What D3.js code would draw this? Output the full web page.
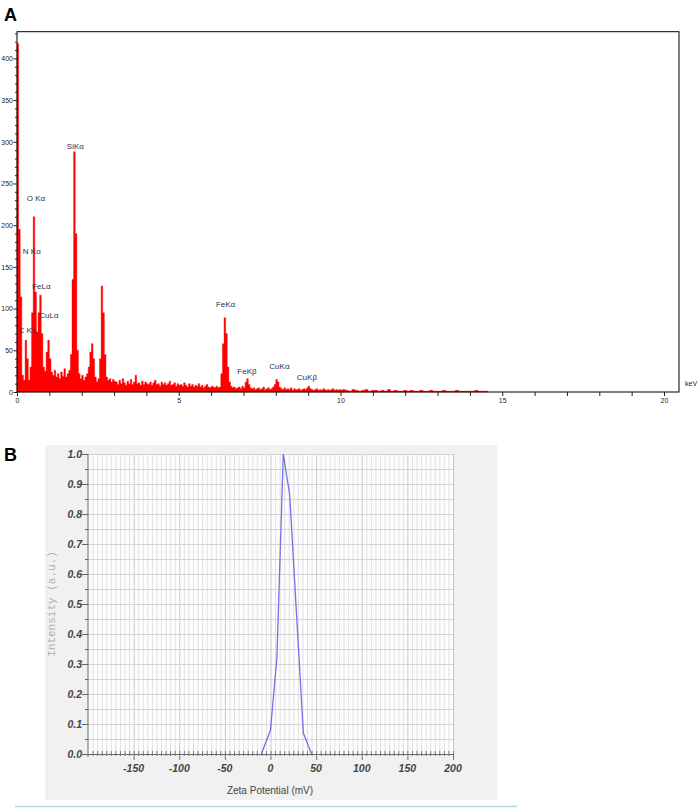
<!DOCTYPE html>
<html><head><meta charset="utf-8">
<script src="https://cdn.jsdelivr.net/npm/d3@7"></script>
<style>body{margin:0;background:#fff}svg{display:block}</style>
</head><body>
<svg id="c" width="699" height="809"></svg>
<script>
// ---------- Panel A: EDS spectrum (counts per channel) ----------
const edsStep = 0.05;           // keV per channel, 0.00 .. 10.00
const edsLow = [ // 0.00 .. 3.00 keV
  418,195,114,20,14,62,40,14,30,95,210,120,72,95,116,70,30,25,48,62,
  40,24,20,26,18,22,16,24,19,28,18,22,26,45,135,288,190,50,22,16,
  20,14,18,22,30,48,58,40,18,12,16,40,127,95,45,18,14,16,12,15,13];
const edsMid = [ // 3.05 .. 10.00 keV
  12,9,14,10,16,11,8,13,10,15,9,12,20,10,11,8,13,9,12,10,
  9,12,8,11,14,9,10,7,12,9,11,8,10,13,8,9,11,7,10,8,
  9,7,11,8,6,10,7,9,6,8,7,10,6,8,5,7,9,6,5,7,
  6,5,7,5,6,22,58,89,70,30,12,7,5,6,4,5,6,4,7,5,
  12,16,9,5,4,5,3,4,5,3,4,6,3,4,5,3,4,6,9,15,
  12,6,4,3,5,3,4,3,5,2,4,3,3,4,2,3,4,3,5,7,
  4,3,2,3,4,2,3,2,4,3,2,3,2,3,4,2,3,2,3,2];
const edsTailStart = 10.05, edsTailStep = 0.1;
const edsTail = [ // 10.05 .. 14.45 keV
  3,2,1,3,2,1,2,3,1,2, 2,1,2,1,3,1,2,1,1,2,
  1,2,1,1,2,1,1,2,1,1, 1,2,1,1,1,2,1,1,1,1, 1,2,1,1,1];
const edsLabels   = ["SiKα","O Kα","N Kα","FeLα","CuLα","C Kα","FeKα","FeKβ","CuKα","CuKβ"];
const edsLabelKeV = [1.54, 0.30, 0.18, 0.47, 0.69, 0.05, 6.15, 6.81, 7.80, 8.65];
const edsLabelCnt = [291, 229, 165, 123, 89, 71, 102, 22, 28, 14];
const edsXTicks = [0,5,10,15,20];

// ---------- Panel B: Zeta potential distribution ----------
const zetaMv  = [-10, 0, 7, 14, 21, 36, 45];
const zetaInt = [0, 0.08, 0.32, 1.0, 0.865, 0.07, 0];
const zetaXTicks = [-150,-100,-50,0,50,100,150,200];
const zetaYTicks = [0,0.1,0.2,0.3,0.4,0.5,0.6,0.7,0.8,0.9,1.0];

const svg = d3.select("#c");
const FONT = "Liberation Sans, Arial, sans-serif";

// ===== Panel A =====
const pts = [];
edsLow.forEach((c,i)=>pts.push({e:i*edsStep, c}));
edsMid.forEach((c,i)=>pts.push({e:3+(i+1)*edsStep, c}));
edsTail.forEach((c,i)=>pts.push({e:edsTailStart + i*edsTailStep, c}));
pts.push({e:edsTailStart + edsTail.length*edsTailStep, c:0});

const xA = d3.scaleLinear().domain([0,20]).range([17,664]);
const yA = d3.scaleLinear().domain([0,432]).range([392,31.7]);
const gA = svg.append("g");

gA.append("text").attr("x",4).attr("y",21).text("A")
  .attr("font-family",FONT).attr("font-weight","bold").attr("font-size",18);

// spectrum as filled step area
const area = d3.area().curve(d3.curveStepAfter)
  .x(d=>xA(d.e)).y0(yA(0)).y1(d=>yA(d.c));
gA.append("path").datum(pts).attr("d",area).attr("fill","#ff0000")
  .attr("stroke","#ff0000").attr("stroke-width",0.4);

// frame
gA.append("rect").attr("x",17).attr("y",31.7).attr("width",679-17).attr("height",392-31.7)
  .attr("fill","none").attr("stroke","#000").attr("stroke-width",1);

// y axis
const yAxA = d3.axisLeft(yA).tickValues(d3.range(0,431,10))
  .tickFormat(d=> d%50===0 ? d : "").tickSizeOuter(0);
const gy = gA.append("g").attr("transform","translate(17,0)").call(yAxA);
gy.select(".domain").remove();
gy.selectAll(".tick line").attr("x2",d=>d%50===0?-3.5:-2).attr("stroke","#222");
gy.selectAll(".tick text").attr("x",-4).attr("font-size",7).attr("fill","#222")
  .attr("font-family",FONT);

// x axis
const xAxA = d3.axisBottom(xA).tickValues(d3.range(0,21,1))
  .tickFormat(d=> edsXTicks.includes(d) ? d : "").tickSizeOuter(0);
const gx = gA.append("g").attr("transform","translate(0,392)").call(xAxA);
gx.select(".domain").remove();
gx.selectAll(".tick line").attr("y2",4).attr("stroke","#222");
gx.selectAll(".tick text").attr("y",6).attr("font-size",7).attr("fill","#222")
  .attr("font-family",FONT);
gA.append("text").attr("x",685).attr("y",386).text("keV")
  .attr("font-size",7).attr("fill","#222").attr("font-family",FONT);

// peak labels
gA.append("g").selectAll("text").data(edsLabels).join("text")
  .attr("x",(d,i)=>xA(edsLabelKeV[i])).attr("y",(d,i)=>yA(edsLabelCnt[i]))
  .text(d=>d).attr("font-size",8).attr("fill","#30304a")
  .attr("font-family",FONT);

// ===== Panel B =====
const gB = svg.append("g");
gB.append("text").attr("x",4).attr("y",461).text("B")
  .attr("font-family",FONT).attr("font-weight","bold").attr("font-size",18);
gB.append("rect").attr("x",45).attr("y",445).attr("width",452).attr("height",355).attr("fill","#f1f1f1");

const xB = d3.scaleLinear().domain([-200,200]).range([88,453]);
const yB = d3.scaleLinear().domain([0,1]).range([754,454]);
gB.append("rect").attr("x",88).attr("y",454).attr("width",365).attr("height",300).attr("fill","#fdfdfd");

// grid
gB.append("g").selectAll("line").data(d3.range(-195,201,5)).join("line")
  .attr("x1",d=>xB(d)+0.5).attr("x2",d=>xB(d)+0.5).attr("y1",454).attr("y2",754)
  .attr("stroke",d=>d%50===0?"#c9c9c9":"#e0e0e0").attr("stroke-width",1);
gB.append("g").selectAll("line").data(d3.range(1,21,1)).join("line")
  .attr("x1",88).attr("x2",453).attr("y1",d=>Math.round(yB(d*0.05))+0.5).attr("y2",d=>Math.round(yB(d*0.05))+0.5)
  .attr("stroke","#d4d4d4").attr("stroke-width",1);

// axes
gB.append("line").attr("x1",88).attr("x2",88).attr("y1",454).attr("y2",757).attr("stroke","#666");
gB.append("line").attr("x1",88).attr("x2",453).attr("y1",754.5).attr("y2",754.5).attr("stroke","#666");
gB.append("g").selectAll("line").data(d3.range(0,21,1)).join("line")
  .attr("x1",d=>d%2===0?82:85).attr("x2",88)
  .attr("y1",d=>Math.round(yB(d*0.05))+0.5).attr("y2",d=>Math.round(yB(d*0.05))+0.5)
  .attr("stroke","#666");
gB.append("g").selectAll("text").data(zetaYTicks).join("text")
  .attr("x",82).attr("y",d=>yB(d)+3.8).attr("text-anchor","end").text(d=>d.toFixed(1))
  .attr("font-family",FONT).attr("font-weight","bold")
  .attr("font-style","italic").attr("font-size",10.5).attr("fill","#444");
gB.append("g").selectAll("line").data(d3.range(-195,201,5)).join("line")
  .attr("x1",d=>xB(d)+0.5).attr("x2",d=>xB(d)+0.5)
  .attr("y1",751).attr("y2",d=>d%50===0?760:756).attr("stroke","#777");
gB.append("g").selectAll("text").data(zetaXTicks).join("text")
  .attr("x",d=>xB(d)).attr("y",772).attr("text-anchor","middle").text(d=>d)
  .attr("font-family",FONT).attr("font-weight","bold")
  .attr("font-style","italic").attr("font-size",10.5).attr("fill","#444");
gB.append("text").attr("x",270).attr("y",794).attr("text-anchor","middle").text("Zeta Potential (mV)")
  .attr("font-family",FONT).attr("font-size",10).attr("fill","#444");
gB.append("text").attr("transform","translate(55,604) rotate(-90)").attr("text-anchor","middle")
  .text("Intensity (a.u.)").attr("font-family","Liberation Mono, DejaVu Sans Mono, monospace")
  .attr("font-size",11).attr("fill","#b0b0b0");

const line = d3.line().x((d,i)=>xB(zetaMv[i])).y(d=>yB(d));
gB.append("path").datum(zetaInt).attr("d",line).attr("fill","none")
  .attr("stroke","#7272e6").attr("stroke-width",1.3);

svg.append("line").attr("x1",15).attr("x2",517).attr("y1",806.5).attr("y2",806.5)
  .attr("stroke","#a6dbe0").attr("stroke-width",1.5);
</script>
</body></html>
